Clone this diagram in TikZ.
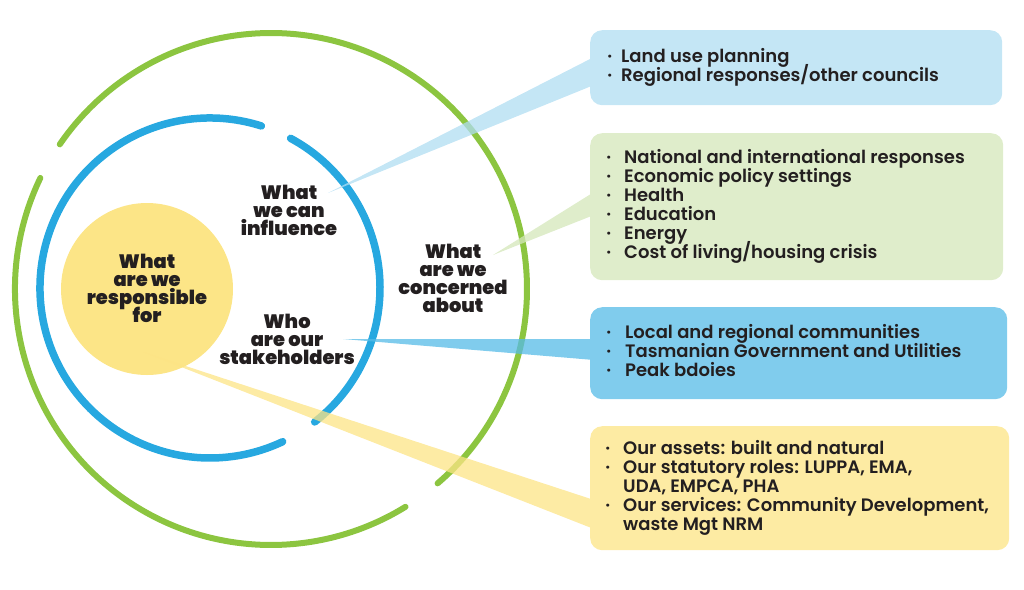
\documentclass[tikz,border=0pt]{standalone}
\usepackage{fontspec}
\setmainfont{Poppins}
\newfontfamily\headfont{Poppins Black}
\newfontfamily\boxfont{Poppins SemiBold}
\usetikzlibrary{calc}
\definecolor{ringgreen}{HTML}{8CC540}
\definecolor{ringblue}{HTML}{27A8E0}
\definecolor{coreyellow}{HTML}{FCE587}
\definecolor{boxA}{HTML}{C4E6F5}
\definecolor{boxB}{HTML}{DFEDCB}
\definecolor{boxC}{HTML}{80CCED}
\definecolor{boxD}{HTML}{FDEBA3}
\definecolor{beamA}{HTML}{B0DDF2}
\definecolor{beamB}{HTML}{D4E7BA}
\definecolor{beamC}{HTML}{56BBE7}
\definecolor{beamD}{HTML}{FCE485}
\definecolor{ink}{HTML}{231F20}
\newcommand\bul[1]{\llap{·\hspace{#1}}}
\newcommand\tightlines{\lineskiplimit=-50pt\relax\lineskip=0pt\relax}
\begin{document}
\begin{tikzpicture}[x=1pt,y=-1pt,
  head/.style={font=\headfont\fontsize{19.4}{18}\selectfont\tightlines, text=ink, align=center, inner sep=0},
  boxtext/.style={font=\boxfont\fontsize{18}{19}\selectfont\tightlines, text=ink, align=left, inner sep=0, anchor=west},
  panel/.style={rounded corners=12pt, inner sep=0, draw=none, anchor=north west},
  beam/.style={opacity=0.75},
  ring/.style={line cap=round}]
\useasboundingbox (0,0) rectangle (1024,589);
\coordinate (gc) at (271,289);
\coordinate (bc) at (210,288);
% rings
\draw[ring, ringgreen, line width=6pt] (gc) ++(49.4:256) arc[start angle=49.4, end angle=-145.6, radius=256];
\draw[ring, ringgreen, line width=6pt] (gc) ++(-154.3:256) arc[start angle=-154.3, end angle=-301.7, radius=256];
\draw[ring, ringblue, line width=7.5pt] (bc) ++(52.0:170) arc[start angle=52.0, end angle=-61.7, radius=170];
\draw[ring, ringblue, line width=7.5pt] (bc) ++(-72.4:170) arc[start angle=-72.4, end angle=-295.3, radius=170];
% core
\node[circle, fill=coreyellow, minimum size=172pt, inner sep=0] (core) at (147,289) {};
% beam tips and ends
\coordinate (tipA) at (328,193);
\coordinate (tipB) at (493,255);
\coordinate (tipC) at (343,339);
\coordinate (tipD) at (143,352);
\coordinate (a1) at (594,57);  \coordinate (a2) at (594,85);
\coordinate (b1) at (594,192); \coordinate (b2) at (594,215);
\coordinate (c1) at (594,339); \coordinate (c2) at (594,360);
\coordinate (d1) at (594,500); \coordinate (d2) at (594,529);
\fill[beamA, beam] (tipA) -- (a1) -- (a2) -- cycle;
\fill[beamB, beam] (tipB) -- (b1) -- (b2) -- cycle;
\fill[beamC, beam] (tipC) -- (c1) -- (c2) -- cycle;
\fill[beamD, beam] (tipD) -- (d1) -- (d2) -- cycle;
% panels
\node[panel, fill=boxA, minimum width=412pt, minimum height=75pt] (p1) at (590,30) {};
\node[panel, fill=boxB, minimum width=413pt, minimum height=147pt] (p2) at (590,133) {};
\node[panel, fill=boxC, minimum width=417pt, minimum height=92pt] (p3) at (590,307) {};
\node[panel, fill=boxD, minimum width=419pt, minimum height=124pt] (p4) at (590,426) {};
% panel texts
\node[boxtext] (t1) at (621,67) {\bul{9pt}Land use planning\\\bul{9pt}Regional responses/other councils};
\node[boxtext] (t2) at (624,206) {\bul{13pt}National and international responses\\\bul{13pt}Economic policy settings\\\bul{13pt}Health\\\bul{13pt}Education\\\bul{13pt}Energy\\\bul{13pt}Cost of living/housing crisis};
\node[boxtext] (t3) at (625,351) {\bul{14pt}Local and regional communities\\\bul{14pt}Tasmanian Government and Utilities\\\bul{14pt}Peak bdoies};
\node[boxtext] (t4) at (623,487.5) {\bul{13pt}Our assets: built and natural\\\bul{13pt}Our statutory roles: LUPPA, EMA,\\UDA, EMPCA, PHA\\\bul{13pt}Our services: Community Development,\\waste Mgt NRM};
% headings
\node[head] (resp) at (147,288) {What\\are we\\responsible\\for};
\node[head] (infl) at (289,210) {What\\we can\\influence};
\node[head] (stake) at (287,339.5) {Who\\are our\\stakeholders};
\node[head] (conc) at (453,278.5) {What\\are we\\concerned\\about};
\end{tikzpicture}
\end{document}
